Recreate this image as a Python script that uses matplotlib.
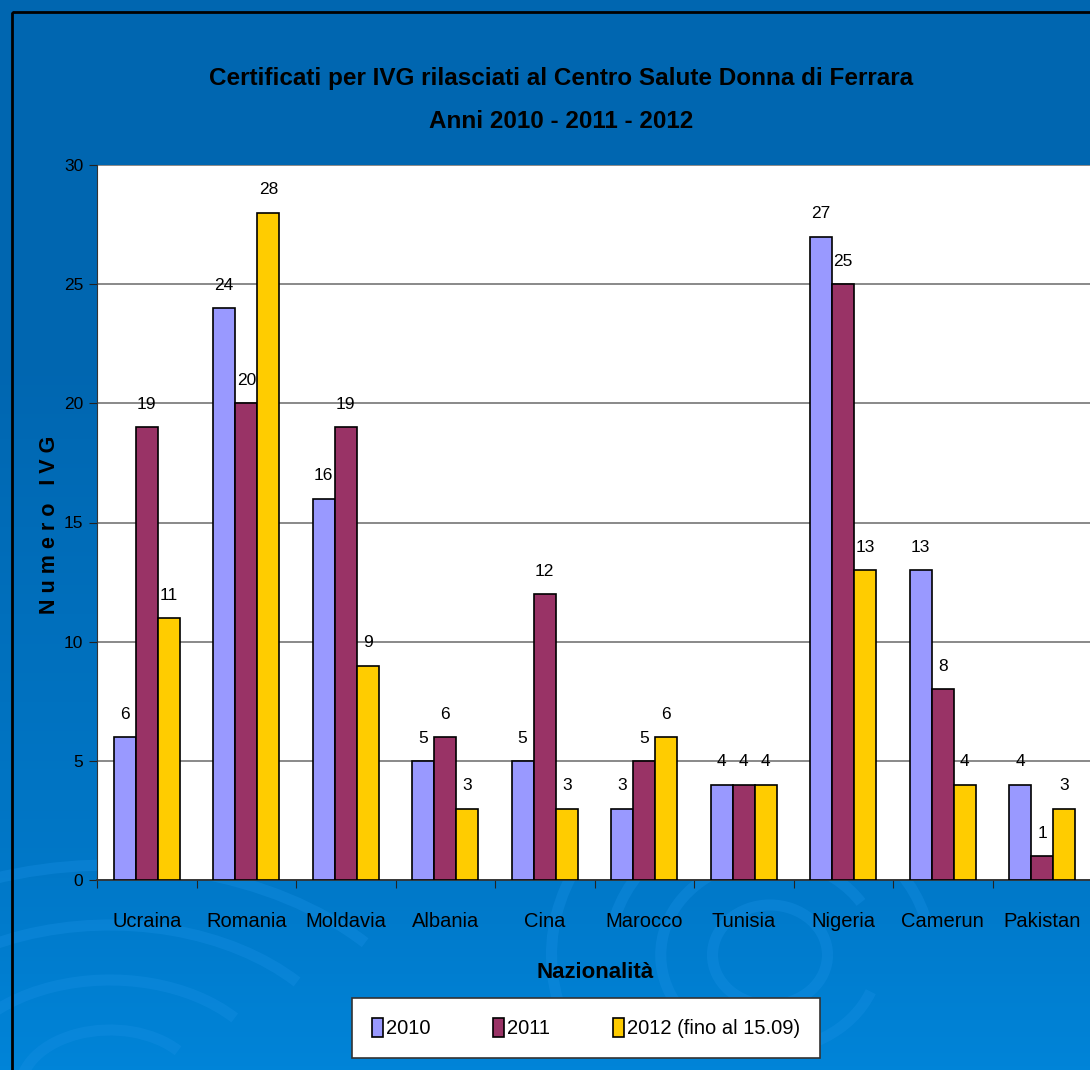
import numpy as np
import matplotlib.pyplot as plt
from matplotlib.patches import Rectangle, Arc, Patch
from matplotlib.colors import LinearSegmentedColormap

# Certificates issued per nationality, three years
paesi = ["Ucraina", "Romania", "Moldavia", "Albania", "Cina",
         "Marocco", "Tunisia", "Nigeria", "Camerun", "Pakistan"]
anno_2010 = [6, 24, 16, 5, 5, 3, 4, 27, 13, 4]
anno_2011 = [19, 20, 19, 6, 12, 5, 4, 25, 8, 1]
anno_2012 = [11, 28, 9, 3, 3, 6, 4, 13, 4, 3]
serie_labels = ["2010", "2011", "2012 (fino al 15.09)"]
colori = ["#9999FF", "#993366", "#FFCC00"]

plt.rcParams["font.family"] = ["Liberation Sans", "DejaVu Sans"]

W, H = 1090, 1070
fig = plt.figure(figsize=(W / 100, H / 100), dpi=100)

# background: blue gradient with faint swirl arcs
bg = fig.add_axes([0, 0, 1, 1], zorder=-10)
bg.set_xlim(0, W)
bg.set_ylim(H, 0)
bg.axis("off")
cmap = LinearSegmentedColormap.from_list(
    "bg", [(0.0, "#0066B0"), (0.33, "#0066B0"), (0.82, "#0078C8"), (1.0, "#0084D8")])
grad = np.linspace(0, 1, 256).reshape(-1, 1)
bg.imshow(grad, extent=[0, W, H, 0], aspect="auto", cmap=cmap)
for r, t1, t2 in [(50, 0, 360), (95, 20, 330), (140, 190, 350), (190, 160, 300), (245, 200, 330)]:
    bg.add_patch(Arc((770, 955), 2 * r * 1.15, 2 * r, theta1=t1, theta2=t2,
                     color="#1890E4", lw=8, alpha=0.35))
for r in [60, 110, 165, 225]:
    bg.add_patch(Arc((110, 1090), 2 * r * 1.5, 2 * r, theta1=180, theta2=330,
                     color="#1890E4", lw=8, alpha=0.35))
bg.add_patch(Rectangle((12, 12), W, H, fill=False, ec="black", lw=2))

# chart area
ax = fig.add_axes([97 / W, 1 - 880 / H, 995 / W, 715 / H])
x = np.arange(len(paesi))
bw = 0.222
for i, (vals, col) in enumerate(zip([anno_2010, anno_2011, anno_2012], colori)):
    pos = x + (i - 1) * bw
    ax.bar(pos, vals, width=bw, color=col, edgecolor="black", linewidth=1.2, zorder=3)
    for xx, v in zip(pos, vals):
        ax.annotate(str(v), (xx, v), xytext=(0, 11), textcoords="offset points",
                    ha="center", va="bottom", fontsize=12.5, zorder=4)

ax.set_xlim(-0.5, len(paesi) - 0.5)
ax.set_ylim(0, 30)
ax.set_yticks(range(0, 31, 5))
ax.yaxis.grid(True, color="#808080", lw=1.3)
ax.set_axisbelow(True)
ax.tick_params(axis="y", labelsize=12.5, length=6, color="#222222", pad=4)
ax.set_xticks(np.arange(-0.5, len(paesi) - 0.4, 1))
ax.set_xticklabels([])
ax.set_xticks(x, minor=True)
ax.set_xticklabels(paesi, minor=True, fontsize=14.5)
ax.tick_params(axis="x", which="major", length=6, color="#222222")
ax.tick_params(axis="x", which="minor", length=0, pad=23)
for s in ["top", "right"]:
    ax.spines[s].set_visible(False)
ax.spines["left"].set_color("#333333")
ax.spines["bottom"].set_color("#333333")
ax.spines["bottom"].set_linewidth(1.3)

fig.text(561 / W, 1 - 78 / H, "Certificati per IVG rilasciati al Centro Salute Donna di Ferrara",
         ha="center", va="center", fontsize=17.5, fontweight="bold")
fig.text(561 / W, 1 - 122 / H, "Anni 2010 - 2011 - 2012",
         ha="center", va="center", fontsize=17.5, fontweight="bold")
fig.text(50 / W, 1 - 525 / H, "N u m e r o   I V G", rotation=90,
         ha="center", va="center", fontsize=15.5, fontweight="bold")
fig.text(595 / W, 1 - 973 / H, "Nazionalità", ha="center", va="center",
         fontsize=16, fontweight="bold")

handles = [Patch(facecolor=c, edgecolor="black", lw=1.2) for c in colori]
leg = fig.legend(handles, serie_labels, loc="center", ncol=3,
                 bbox_to_anchor=(586 / W, 1 - 1028 / H), fontsize=14.5,
                 handlelength=0.55, handleheight=1.1, handletextpad=0.15,
                 columnspacing=3.1, borderpad=1.0, borderaxespad=0,
                 fancybox=False, framealpha=1, edgecolor="#333333")
leg.get_frame().set_linewidth(1.2)

fig.savefig("out.png", dpi=100)
